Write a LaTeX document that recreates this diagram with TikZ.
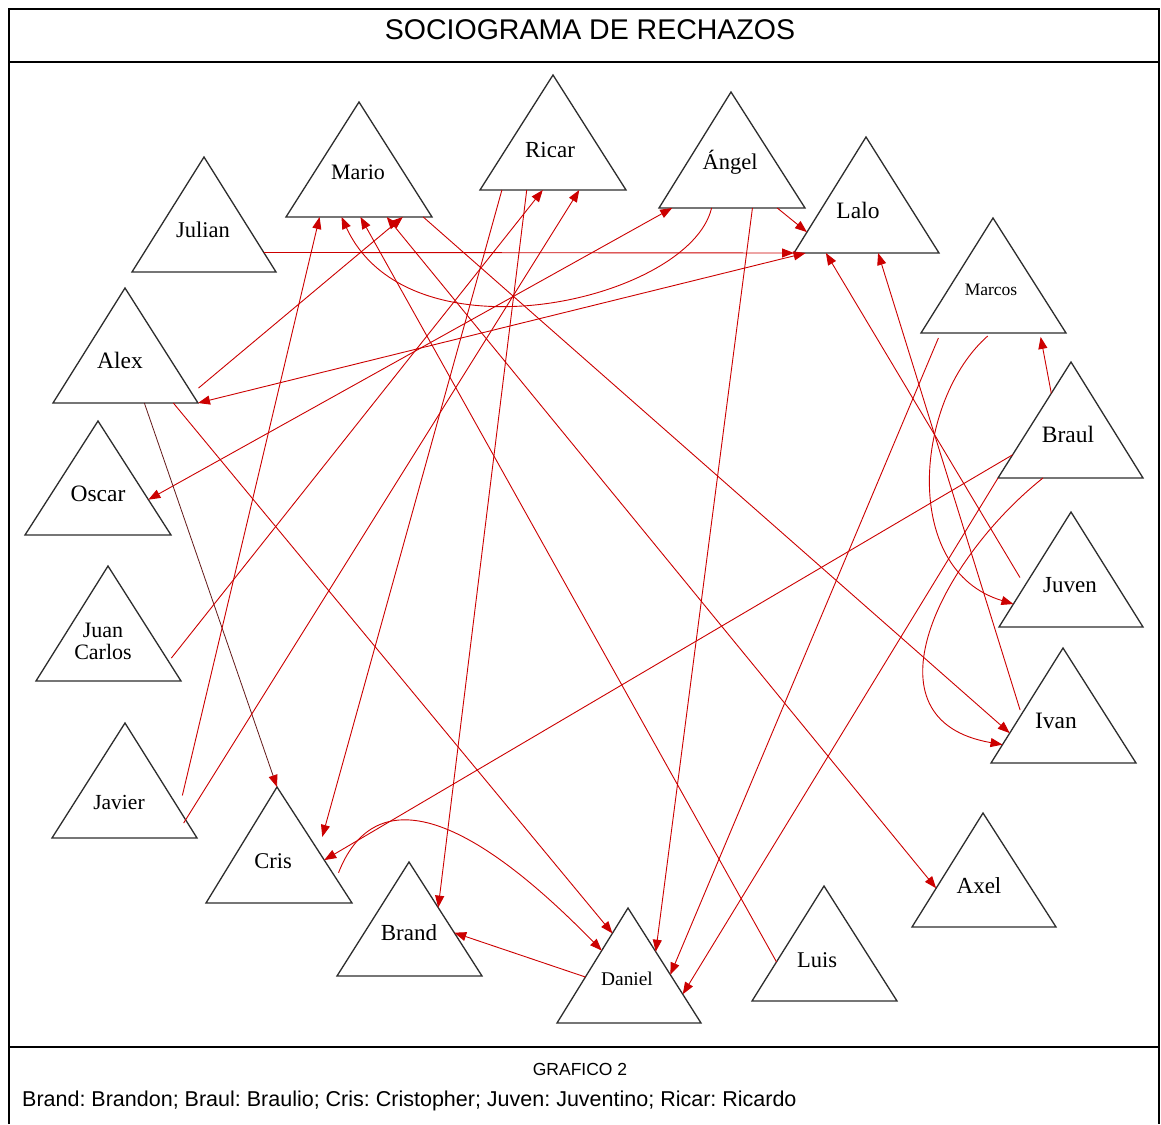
\documentclass[tikz,border=0pt]{standalone}
\usepackage{fontspec}
\setmainfont{Liberation Serif}
\newfontfamily\arialfont{Liberation Sans}
\usetikzlibrary{arrows.meta,calc}
\definecolor{rojo}{RGB}{204,0,0}
\definecolor{rojooscuro}{RGB}{100,25,25}
\definecolor{contorno}{RGB}{45,45,45}
\frenchspacing

% \persona{name}{apex x}{apex y}{base y}{left x}{right x}{label x,baseline y}{font size}{text}
\newcommand\persona[9]{%
  \coordinate (#1-t) at (#2,#3);
  \coordinate (#1-l) at (#5,#4);
  \coordinate (#1-r) at (#6,#4);
  \draw[tri] (#1-t) -- (#1-l) -- (#1-r) -- cycle;
  \node[lbl,font=\fontsize{#8}{#8}\selectfont] (#1) at (#7) {#9};
}

\begin{document}
\begin{tikzpicture}[x=1pt,y=-1pt,
  tri/.style={draw=contorno,line width=1.3pt,fill=white,line join=miter},
  lbl/.style={anchor=base,inner sep=0pt,text=black},
  rej/.style={draw=rojo,line width=0.9pt,-{Triangle[length=12pt,width=9pt]}},
  rejboth/.style={draw=rojo,line width=0.9pt,{Triangle[length=12pt,width=9pt]}-{Triangle[length=12pt,width=9pt]}},
  rejdark/.style={draw=rojooscuro,line width=0.8pt,-{Triangle[length=12pt,width=9pt,color=rojo]}},
  marco/.style={draw=black,line width=2pt}]
\useasboundingbox (0,0) rectangle (1161,1124);
\fill[white] (0,0) rectangle (1161,1124);

% frame with title band and footer band
\draw[marco] (9,1124) -- (9,9) -- (1159,9) -- (1159,1124);
\draw[marco] (9,62) -- (1159,62);
\draw[marco] (9,1047) -- (1159,1047);

% people
\persona{mario}{359}{102}{217}{286}{432}{358,179}{22}{Mario}
\persona{julian}{204}{157}{272}{132}{276}{203,237}{22.5}{Julian}
\persona{alex}{125}{288}{403}{53}{198}{120,368}{23.5}{Alex}
\persona{ricar}{553}{75}{190}{480}{626}{550,157}{23}{Ricar}
\persona{angel}{731}{92}{208}{659}{805}{730,169}{22.5}{Ángel}
\persona{lalo}{866}{137}{253}{794}{939}{858,218}{23.5}{Lalo}
\persona{marcos}{993}{218}{333}{921}{1066}{991,295}{17.5}{Marcos}
\persona{braul}{1071}{362}{478}{998}{1143}{1068,442}{23.5}{Braul}
\persona{oscar}{98}{421}{535}{25}{171}{98,501}{23.5}{Oscar}
\persona{juancarlos}{108}{566}{681}{36}{181}{103,659}{22}{\begin{tabular}[b]{@{}c@{}}Juan\\Carlos\end{tabular}}
\persona{javier}{125}{723}{838}{52}{197}{119,809}{21.5}{Javier}
\persona{cris}{277}{787}{903}{206}{352}{273,868}{22.5}{Cris}
\persona{brand}{409}{862}{976}{337}{482}{409,940}{23}{Brand}
\persona{daniel}{628}{908}{1023}{557}{701}{627,985}{19.4}{Daniel}
\persona{luis}{824}{886}{1001}{752}{897}{817,967}{22.5}{Luis}
\persona{axel}{983}{813}{927}{912}{1056}{979,893}{23}{Axel}
\persona{ivan}{1063}{648}{763}{991}{1136}{1056,728}{23.5}{Ivan}
\persona{juven}{1071}{512}{627}{999}{1143}{1070,592}{23}{Juven}

% rejections
\draw[rej] ($(julian-r)!0.17!(julian-t)$) -- (lalo-l);
\draw[rejboth] (alex-r) -- ($(lalo-l)!0.08!(lalo-r)$);
\draw[rej] ($(angel-l)!0.81!(angel-r)$) -- ($(lalo-l)!0.18!(lalo-t)$);
\draw[rej] ($(juven-l)!0.43!(juven-t)+(-10,0)$) -- ($(lalo-l)!0.22!(lalo-r)$);
\draw[rej] ($(ivan-l)!0.46!(ivan-t)+(-4,0)$) -- ($(lalo-l)!0.58!(lalo-r)$);
\draw[rej] ($(angel-l)!0.36!(angel-r)$) .. controls (690,300) and (410,365) .. ($(mario-l)!0.38!(mario-r)$);
\draw[rej] ($(angel-l)!0.64!(angel-r)$) -- ($(daniel-r)!0.62!(daniel-t)$);
\draw[rejboth] ($(oscar-r)!0.31!(oscar-t)$) -- ($(angel-l)!0.09!(angel-r)$);
\draw[rej] ($(alex-r)!0.13!(alex-t)+(10,0)$) -- ($(mario-l)!0.8!(mario-r)$);
\draw[rejdark] ($(alex-l)!0.63!(alex-r)$) -- (cris-t);
\draw[rej] ($(alex-l)!0.83!(alex-r)$) -- ($(daniel-l)!0.78!(daniel-t)$);
\draw[rej] ($(juancarlos-r)!0.2!(juancarlos-t)+(5,0)$) -- ($(ricar-l)!0.43!(ricar-r)$);
\draw[rej] ($(javier-r)!0.37!(javier-t)+(12,0)$) -- ($(mario-l)!0.23!(mario-r)$);
\draw[rej] ($(javier-r)!0.13!(javier-t)+(-4,0)$) -- ($(ricar-l)!0.68!(ricar-r)$);
\draw[rej] ($(ricar-l)!0.15!(ricar-r)$) -- ($(cris-r)!0.57!(cris-t)+(13,0)$);
\draw[rej] ($(ricar-l)!0.32!(ricar-r)$) -- ($(brand-r)!0.6!(brand-t)$);
\draw[rej] ($(mario-l)!0.94!(mario-r)$) -- ($(ivan-l)!0.26!(ivan-t)$);
\draw[rejboth] ($(mario-l)!0.69!(mario-r)$) -- ($(axel-l)!0.34!(axel-t)$);
\draw[rej] ($(luis-l)!0.34!(luis-t)$) -- ($(mario-l)!0.51!(mario-r)$);
\draw[rej] ($(marcos-l)!0.12!(marcos-r)+(0,5)$) -- ($(daniel-r)!0.42!(daniel-t)$);
\draw[rej] ($(marcos-l)!0.46!(marcos-r)+(0,3)$) .. controls (915,400) and (900,570) .. ($(juven-l)!0.2!(juven-t)$);
\draw[rej,shorten >=4pt] ($(braul-l)!0.73!(braul-t)$) -- ($(marcos-l)!0.82!(marcos-r)$);
\draw[rej] ($(braul-l)!0.2!(braul-t)$) -- ($(cris-r)!0.37!(cris-t)$);
\draw[rej] (braul-l) -- ($(daniel-r)!0.25!(daniel-t)$);
\draw[rej] ($(braul-l)!0.31!(braul-r)$) .. controls (940,560) and (860,720) .. ($(ivan-l)!0.16!(ivan-t)$);
\draw[rej] ($(cris-r)!0.26!(cris-t)+(6,0)$) .. controls (370,792) and (450,795) .. ($(daniel-l)!0.63!(daniel-t)$);
\draw[rej] ($(daniel-l)!0.4!(daniel-t)$) -- ($(brand-r)!0.38!(brand-t)$);

% title and footer
\node[anchor=base,inner sep=0pt,font=\arialfont\fontsize{28.5}{30}\selectfont] (titulo) at (590,40) {SOCIOGRAMA DE RECHAZOS};
\node[anchor=base,inner sep=0pt,font=\arialfont\fontsize{17.5}{18}\selectfont] (grafico) at (580,1075) {GRAFICO 2};
\node[anchor=base west,inner sep=0pt,font=\arialfont\fontsize{21.5}{22}\selectfont] (leyenda) at (22,1106) {Brand: Brandon; Braul: Braulio; Cris: Cristopher; Juven: Juventino; Ricar: Ricardo};
\end{tikzpicture}
\end{document}
